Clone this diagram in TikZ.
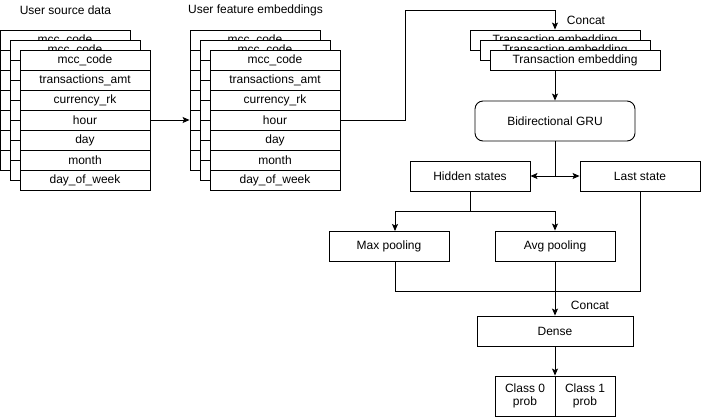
\documentclass[tikz,border=0pt]{standalone}
\usepackage{fontspec}
\setmainfont{Liberation Sans}
\usetikzlibrary{arrows.meta}
\begin{document}
\begin{tikzpicture}[x=1pt,y=-1pt,
  every node/.style={font=\fontsize{12}{14}\selectfont},
  line width=0.9pt,
  box/.style={draw,fill=white,inner sep=0pt,align=center},
  cell/.style={box,minimum width=130pt,minimum height=20pt},
  tbox/.style={box,minimum width=170pt,minimum height=20pt},
  arr/.style={-{Stealth[length=7pt,width=6pt,inset=1.5pt]}},
  lbl/.style={inner sep=0pt}]
\fill[white] (0,0) rectangle (701,418);
\useasboundingbox (0,0) rectangle (701,418);

% titles
\node[lbl] (t1) at (65.5,10) {User source data};
\node[lbl] (t2) at (255.5,10) {User feature embeddings};

% source and embedding tables: back layers (only the top row text shows)
\foreach \p/\x in {s/65,e/255} {
  \foreach \t/\dx in {a/0,b/10} {
    \node[cell] (\p\t1) at (\x+\dx,40+\dx) {mcc\_code};
    \foreach \i in {2,...,7} {
      \node[cell] (\p\t\i) at (\x+\dx,20+\dx+20*\i) {};
    }
  }
  \foreach \lab [count=\i] in {mcc\_code,transactions\_amt,currency\_rk,hour,day,month,day\_of\_week} {
    \node[cell] (\p c\i) at (\x+20,40+20*\i) {\lab};
  }
}
\draw[arr] (sc4.east) -- (ea5.west);

% transaction embeddings
\node[tbox] (ta) at (555,40) {Transaction embedding};
\node[tbox] (tb) at (565,50) {Transaction embedding};
\node[tbox] (tc) at (575,60) {Transaction embedding};
\node[lbl] (c1) at (586,20) {Concat};

\draw[arr] (ec4.east) -- (405,120) -- (405,10) -| (ta.north);

% GRU
\node[box,rounded corners=8pt,minimum width=160pt,minimum height=40pt] (gru) at (555,121) {Bidirectional GRU};
\draw[arr] (gru.north |- tc.south) -- (gru.north);

\node[box,minimum width=120pt,minimum height=30pt] (hs) at (470,176) {Hidden states};
\node[box,minimum width=120pt,minimum height=30pt] (ls) at (640,176) {Last state};
\coordinate (j1) at (555,176);
\draw (gru.south) -- (j1);
\draw[arr] (j1) -- (hs.east);
\draw[arr] (j1) -- (ls.west);

\node[box,minimum width=120pt,minimum height=30pt] (mp) at (389,246) {Max pooling};
\node[box,minimum width=120pt,minimum height=30pt] (ap) at (555,246) {Avg pooling};
\coordinate (j2) at (470,211);
\draw (hs.south) -- (j2);
\draw[arr] (j2) -- (395,211) -- (395,231);
\draw[arr] (j2) -- (555,211) -- (ap.north);

\node[box,minimum width=156pt,minimum height=30pt] (dense) at (555,331) {Dense};
\node[lbl] (c2) at (590,305) {Concat};
\draw (395,261) -- (395,291) -- (640,291) -- (ls.south);
\draw[arr] (ap.south) -- (dense.north);

\node[box,minimum width=60pt,minimum height=40pt] (k0) at (525,396) {Class 0\\[-1pt]prob};
\node[box,minimum width=60pt,minimum height=40pt] (k1) at (585,396) {Class 1\\[-1pt]prob};
\draw[arr] (dense.south) -- (dense.south |- k0.north);
\end{tikzpicture}
\end{document}
